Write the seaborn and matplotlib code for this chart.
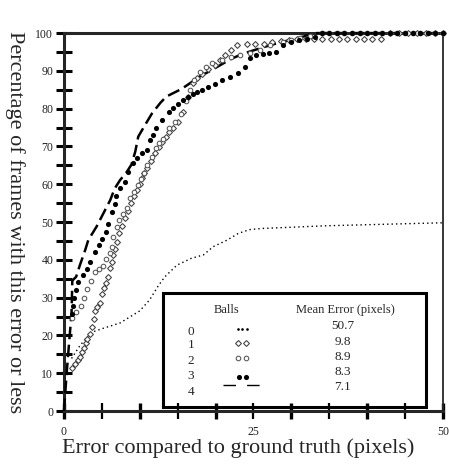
import matplotlib
matplotlib.use("Agg")
import matplotlib.pyplot as plt
import seaborn as sns
from matplotlib.patches import Rectangle

# Data
balls = ["0", "1", "2", "3", "4"]
mean_error = ["50.7", "9.8", "8.9", "8.3", "7.1"]

x0 = [1.0, 2.0, 3.0, 3.9, 5.2, 7.4, 10.0, 11.3, 12.4, 13.3, 14.9, 16.8, 18.4,
      19.7, 21.5, 23.0, 24.5, 26.1, 34.4, 45.9, 50.0]
y0 = [13.9, 17.0, 19.5, 21.0, 21.9, 23.3, 26.5, 29.4, 33.0, 35.5, 38.6, 40.4, 41.3,
      43.5, 45.2, 47.0, 48.0, 48.3, 49.0, 49.6, 49.8]

x1 = [1.0, 1.4, 1.8, 2.1, 2.4, 2.6, 2.9, 3.1, 3.4, 3.65, 3.9, 4.1, 4.4, 4.7, 5.05,
      5.3, 5.6, 5.85, 6.1, 6.3, 6.5, 6.7, 6.95, 7.2, 7.6, 8.0, 8.4, 8.9, 9.2, 9.6,
      10.0, 10.25, 10.6, 11.0, 11.5, 12.0, 12.5, 12.9, 13.4, 13.8, 14.4, 15.1, 15.7,
      16.3, 17.0, 17.6, 18.2, 19.0, 19.9, 20.6, 21.2, 22.0, 22.8, 24.1, 25.2, 26.4,
      27.5, 28.6, 29.7, 30.8, 31.9, 33.0, 34.1, 35.2, 36.3, 37.4, 38.5, 39.6, 40.7,
      41.8, 43.0, 44.2, 45.4, 46.6, 47.8, 49.0, 50.0]
y1 = [11.3, 12.5, 13.5, 14.3, 15.5, 16.7, 18.0, 19.0, 20.5, 22.2, 24.3, 26.5, 27.5,
      28.5, 31.0, 32.5, 34.0, 35.5, 37.8, 39.5, 41.3, 43.0, 44.8, 47.0, 49.0, 51.0,
      53.0, 55.0, 56.8, 58.5, 60.0, 61.6, 63.0, 64.2, 66.2, 68.2, 69.8, 71.2, 72.5,
      73.9, 75.0, 76.5, 79.0, 83.0, 86.7, 88.0, 89.3, 90.5, 91.5, 93.0, 94.2, 95.5,
      96.8, 97.0, 97.0, 97.2, 97.6, 98.0, 98.3, 98.4, 98.4, 98.4, 98.4, 98.4, 98.4,
      98.4, 98.4, 98.4, 98.4, 98.4, 100, 100, 100, 100, 100, 100, 100]

x2 = [1.1, 1.6, 2.2, 2.6, 3.1, 3.6, 4.1, 4.65, 5.1, 5.6, 6.1, 6.4, 6.5, 6.95, 7.3,
      7.8, 8.3, 8.7, 9.2, 9.8, 10.2, 10.5, 11.0, 11.6, 12.2, 12.6, 13.1, 13.8, 14.6,
      15.5, 16.1, 16.6, 17.2, 17.9, 18.7, 19.5, 20.8, 22.0, 23.2, 24.5, 25.9, 27.2,
      28.9, 30.0, 31.2, 32.4, 34, 35, 36, 37, 38, 39, 40, 41, 42, 43, 44, 45, 46, 47,
      48, 49, 50]
y2 = [24.5, 26.3, 27.8, 30.0, 32.2, 34.5, 36.7, 37.5, 38.4, 40.1, 41.7, 43.5, 46.0,
      48.8, 50.5, 52.0, 53.6, 56.3, 58.0, 59.8, 61.5, 62.9, 65.1, 67.3, 69.5, 70.8,
      72.1, 74.8, 76.5, 78.7, 82.0, 84.9, 87.5, 89.8, 91.0, 92.0, 92.9, 93.6, 94.2,
      94.6, 95.5, 96.8, 97.7, 98.3, 98.8, 99.2, 100, 100, 100, 100, 100, 100, 100,
      100, 100, 100, 100, 100, 100, 100, 100, 100, 100]

x3 = [1.0, 1.15, 1.3, 1.6, 1.9, 2.55, 3.0, 3.4, 4.1, 4.6, 5.0, 5.5, 5.8, 6.3, 6.7,
      6.9, 7.4, 8.0, 8.5, 9.1, 9.6, 10.25, 10.9, 11.3, 11.8, 12.2, 12.9, 13.8, 14.4,
      15.0, 15.7, 16.4, 17.0, 17.6, 18.2, 19.0, 19.9, 20.8, 21.9, 23.0, 23.9, 24.5,
      25.4, 26.2, 27.0, 28.0, 28.9, 30.0, 31.0, 32.1, 33.1, 34, 35, 36, 37, 38, 39,
      40, 41, 42, 43, 44, 45, 46, 47, 48, 49, 50]
y3 = [25.8, 27.8, 29.8, 32.0, 34.2, 36.0, 37.7, 39.5, 42.0, 44.0, 45.5, 47.4, 49.5,
      52.7, 54.9, 56.9, 58.9, 60.7, 63.3, 65.5, 67.0, 68.2, 69.0, 71.7, 73.0, 74.8,
      77.0, 79.0, 80.3, 81.3, 82.3, 83.1, 83.8, 84.5, 85.0, 85.8, 86.6, 87.5, 88.5,
      89.5, 91.0, 93.3, 94.2, 94.5, 94.6, 95.0, 96.8, 97.7, 98.3, 98.5, 99.0, 100,
      100, 100, 100, 100, 100, 100, 100, 100, 100, 100, 100, 100, 100, 100, 100, 100]

x4 = [0.0, 0.35, 1.0, 1.1, 1.6, 2.1, 2.8, 3.2, 4.3, 5.2, 6.1, 6.7, 7.4, 8.3, 8.9,
      9.4, 9.8, 10.7, 11.6, 12.7, 13.5, 14.4, 15.5, 16.6, 17.9, 19.3, 20.6, 21.9,
      23.2, 24.5, 25.9, 27.2, 28.9, 30.5, 32.0, 33.0, 50.0]
y4 = [0.0, 10.0, 26.0, 34.5, 35.5, 38.6, 42.6, 45.2, 48.8, 52.3, 55.8, 58.9, 61.1,
      63.3, 65.2, 68.6, 72.6, 75.7, 78.7, 81.5, 83.2, 84.1, 85.2, 86.7, 88.5, 90.0,
      91.5, 93.0, 94.2, 95.1, 96.0, 96.8, 97.7, 98.5, 99.3, 100, 100]

SERIF = ["Liberation Serif", "DejaVu Serif"]

sns.set_style("ticks")
plt.rcParams["font.family"] = SERIF

DIAMOND = dict(marker="D", markersize=3.0, markerfacecolor="white",
               markeredgecolor="#3c3c3c", markeredgewidth=0.75)
OPEN = dict(marker="o", markersize=3.3, markerfacecolor="white",
            markeredgecolor="#555555", markeredgewidth=0.75)
FILLED = dict(marker="o", markersize=3.7, color="black", markeredgewidth=0)

fig = plt.figure(figsize=(4.49, 4.66), dpi=100)
ax = fig.add_axes([0.1425, 0.118, 0.844, 0.811])

# curves
sns.lineplot(x=x0, y=y0, ax=ax, sort=False, estimator=None, color="black",
             linewidth=1.0, linestyle=(0, (1, 2.2)))
sns.lineplot(x=x4, y=y4, ax=ax, sort=False, estimator=None, color="black",
             linewidth=1.8, linestyle=(0, (5, 2.2)), clip_on=False, zorder=3)
sns.lineplot(x=x1, y=y1, ax=ax, sort=False, estimator=None, linestyle="",
             clip_on=False, zorder=4, **DIAMOND)
sns.lineplot(x=x2, y=y2, ax=ax, sort=False, estimator=None, linestyle="",
             clip_on=False, zorder=4, **OPEN)
sns.lineplot(x=x3, y=y3, ax=ax, sort=False, estimator=None, linestyle="",
             clip_on=False, zorder=5, **FILLED)

ax.set_xlim(0, 50)
ax.set_ylim(0, 100)

# axes frame
for side in ["left", "top", "bottom"]:
    ax.spines[side].set_linewidth(2.2)
ax.spines["right"].set_visible(True)
ax.spines["top"].set_visible(True)
ax.spines["right"].set_linewidth(1.3)

yt = list(range(0, 101, 5))
ax.set_yticks(yt)
ax.set_yticklabels([str(v) if v % 10 == 0 else "" for v in yt])
xt = list(range(0, 51, 5))
ax.set_xticks(xt)
ax.set_xticklabels([str(v) if v % 25 == 0 else "" for v in xt])
ax.tick_params(axis="both", direction="inout", length=11.5, width=1.6,
               labelsize=8.5, colors="black")
ax.tick_params(axis="y", pad=2)
ax.tick_params(axis="x", pad=5)
for v, tick in zip(xt, ax.xaxis.get_major_ticks()):
    if v % 10 == 0:
        tick.tick1line.set_markeredgewidth(2.4)
for tick in ax.yaxis.get_major_ticks():
    tick.tick1line.set_markeredgewidth(2.2)
for lab in ax.get_xticklabels() + ax.get_yticklabels():
    lab.set_color("#222222")

# legend box drawn as a table
ax.add_patch(Rectangle((13.05, 1.06), 34.75, 30.1, fill=False, linewidth=2.2,
                       edgecolor="black", zorder=2))
ax.text(21.4, 26.7, "Balls", ha="center", va="center", fontsize=9)
ax.text(37.1, 26.7, "Mean Error (pixels)", ha="center", va="center", fontsize=9)
row_y = [21.0, 17.5, 13.3, 9.3, 5.1]
val_y = [22.5, 18.3, 14.4, 10.4, 6.4]
for b, m, ry, vy in zip(balls, mean_error, row_y, val_y):
    ax.text(16.75, ry, b, ha="center", va="center", fontsize=9.5)
    ax.text(36.8, vy, m, ha="center", va="center", fontsize=9.5)

ax.plot([22.9, 23.5, 24.1], [21.7, 21.7, 21.7], linestyle="", marker="o",
        markersize=0.9, color="black")
ax.plot([23.0, 24.0], [18.0, 18.0], linestyle="", **DIAMOND)
ax.plot([23.0, 24.0], [14.0, 14.0], linestyle="", **OPEN)
ax.plot([23.1, 24.0], [9.0, 9.0], linestyle="", **FILLED)
ax.plot([20.98, 25.86], [6.9, 6.9], color="black", linewidth=1.0,
        linestyle=(0, (9, 8)))

fig.text(238.5 / 449, 1 - 448 / 466, "Error compared to ground truth (pixels)",
         ha="center", va="center", fontsize=16)
fig.text(15 / 449, 1 - 222.5 / 466, "Percentage of frames with this error or less",
         ha="center", va="center", rotation=270, fontsize=16)

fig.savefig("out.png", dpi=100)
